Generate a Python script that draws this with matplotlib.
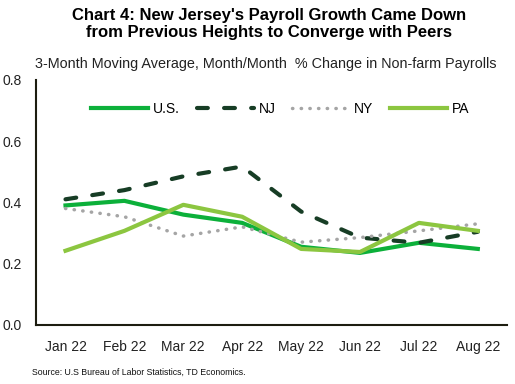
import numpy as np
import matplotlib.pyplot as plt

plt.rcParams['font.family'] = ['Liberation Sans', 'DejaVu Sans']

months = ['Jan 22', 'Feb 22', 'Mar 22', 'Apr 22', 'May 22', 'Jun 22', 'Jul 22', 'Aug 22']
us = [0.39, 0.405, 0.36, 0.333, 0.255, 0.235, 0.268, 0.248]
nj = [0.41, 0.44, 0.485, 0.517, 0.37, 0.285, 0.268, 0.304]
ny = [0.38, 0.353, 0.29, 0.32, 0.27, 0.285, 0.307, 0.33]
pa = [0.242, 0.307, 0.392, 0.353, 0.248, 0.238, 0.333, 0.307]

fig = plt.figure(figsize=(5.15, 3.84), dpi=100)
ax = fig.add_axes([0.07, 0.154, 0.915, 0.638])

x = np.arange(len(months))
ax.plot(x, us, color='#0cb03a', lw=3, label='U.S.')
ax.plot(x, nj, color='#173d25', lw=3, dashes=(2.6, 3.9), dash_capstyle='round', label='NJ')
ax.plot(x, ny, color='#a5a5a5', lw=2.5, dashes=(0.1, 2.4), dash_capstyle='round', label='NY')
ax.plot(x, pa, color='#8cc640', lw=3, label='PA')

ax.set_ylim(0, 0.8)
ax.set_yticks([0, 0.2, 0.4, 0.6, 0.8])
ax.set_yticklabels(['0.0', '0.2', '0.4', '0.6', '0.8'])
ax.set_xlim(-0.5, len(months) - 0.5)
ax.set_xticks(x)
ax.set_xticklabels(months)
ax.tick_params(length=0, labelsize=10, colors='#222222', pad=11)
ax.tick_params(axis='y', pad=10)
for s in ['top', 'right']:
    ax.spines[s].set_visible(False)
for s in ['left', 'bottom']:
    ax.spines[s].set_color('#1d1d10')
    ax.spines[s].set_linewidth(1.5)

ax.legend(loc='upper center', bbox_to_anchor=(0.518, 0.96), ncol=4, frameon=False,
          handlelength=4.1, handletextpad=0.35, columnspacing=1.2, fontsize=10)

fig.text(0.522, 0.98, "Chart 4: New Jersey's Payroll Growth Came Down\nfrom Previous Heights to Converge with Peers",
         ha='center', va='top', fontsize=12, fontweight='bold', linespacing=1.2)
fig.text(0.068, 0.833, '3-Month Moving Average, Month/Month  % Change in Non-farm Payrolls',
         ha='left', va='center', fontsize=10.4, color='#222222')
fig.text(0.062, 0.031, 'Source: U.S Bureau of Labor Statistics, TD Economics.',
         ha='left', va='center', fontsize=6.3, color='#111111')

fig.savefig('out.png', dpi=100)
